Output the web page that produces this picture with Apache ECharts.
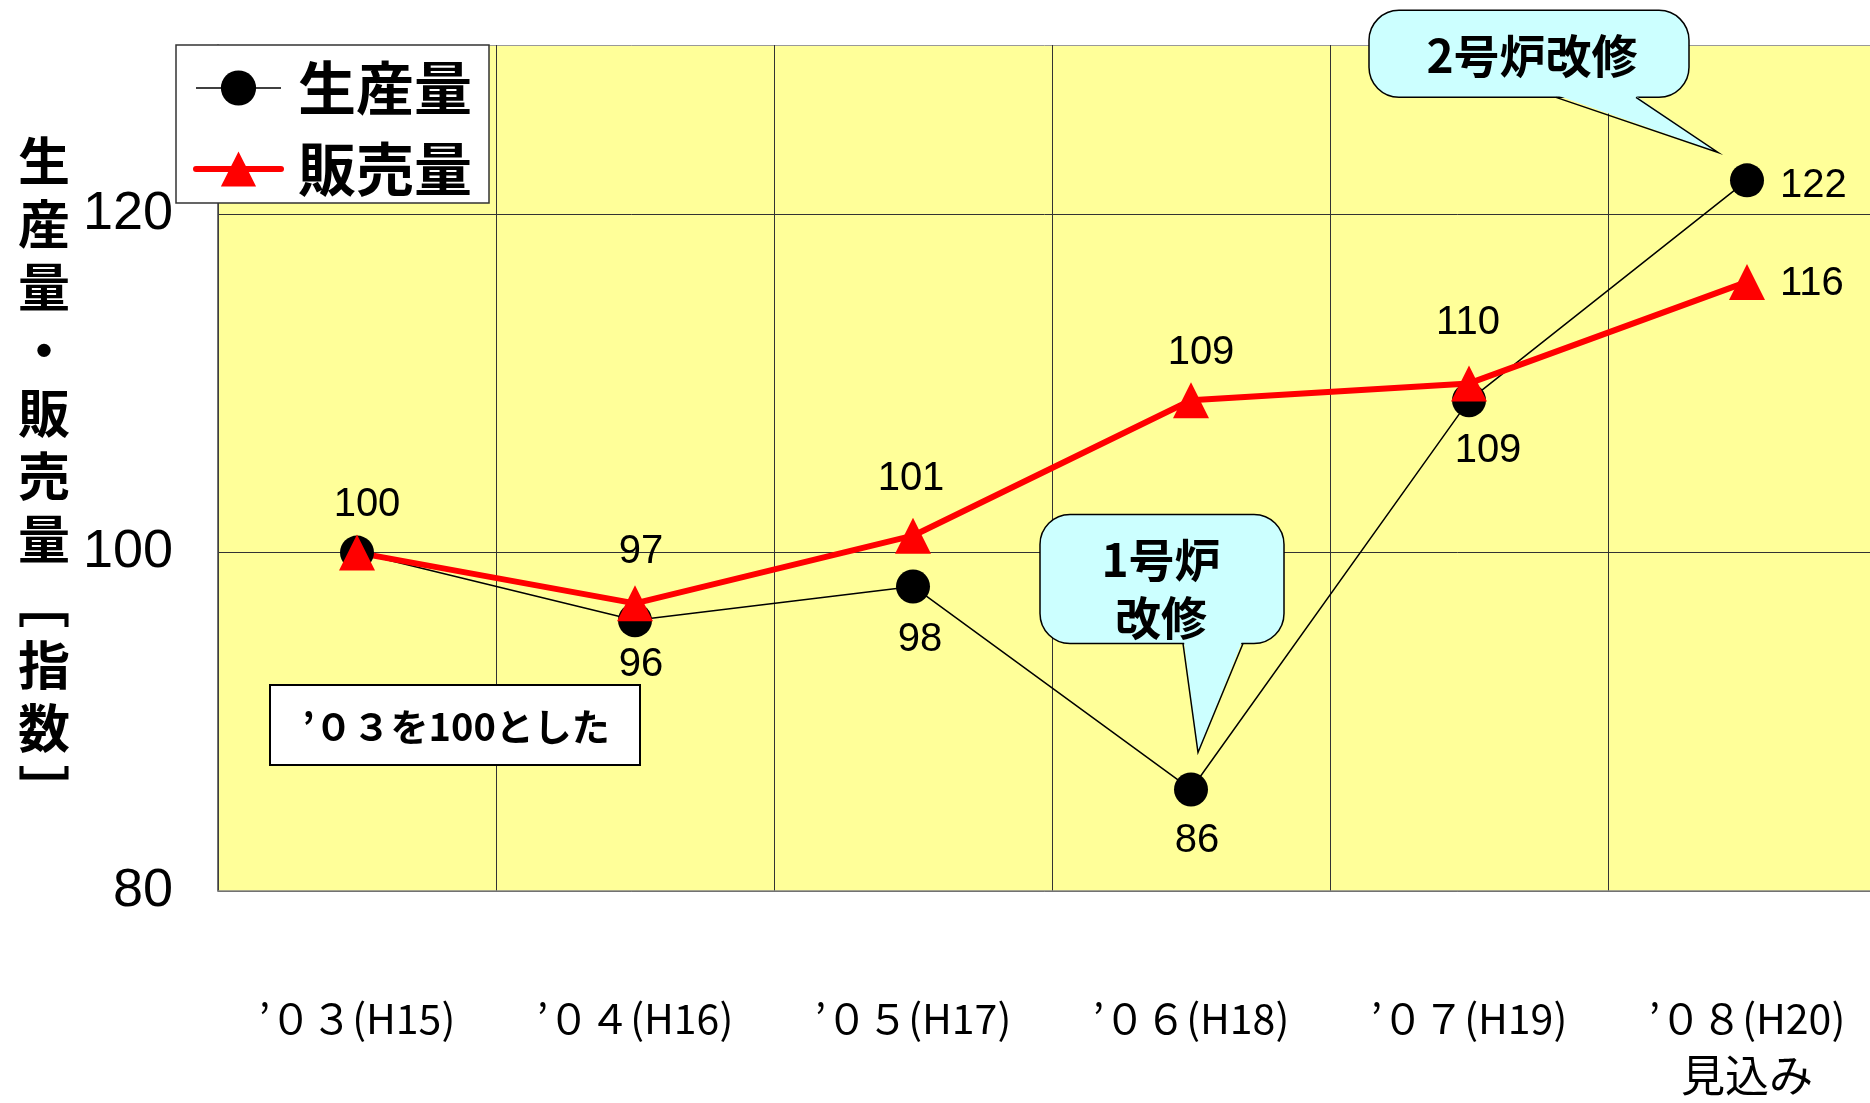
<!DOCTYPE html>
<html>
<head>
<meta charset="utf-8">
<script src="https://cdn.jsdelivr.net/npm/echarts@6/dist/echarts.min.js"></script>
<style>
  html, body { margin: 0; padding: 0; background: #ffffff; }
  #chart { width: 1870px; height: 1103px; }
</style>
</head>
<body>
<div id="chart"></div>
<script>
// Fiscal years (calendar year and Heisei year); the last one is a forecast
const categories = ['’０３(H15)', '’０４(H16)', '’０５(H17)', '’０６(H18)', '’０７(H19)', '’０８(H20)\n見込み'];
// Index values, 2003 = 100
const productionIndex = [100, 96, 98, 86, 109, 122];
const salesIndex = [100, 97, 101, 109, 110, 116];
const yTickLabels = [80, 100, 120];
const seriesNames = ['生産量', '販売量'];
const axisTitle = '生産量・販売量［指数］';
const baseNote = '’０３を100とした';
const furnace1Note = '1号炉\n改修';
const furnace2Note = '2号炉改修';

const CJK = '"Noto Sans CJK JP", "Noto Sans CJK SC", sans-serif';
const LATIN = '"Liberation Sans", Arial, sans-serif';

// Per-point label placement (pos, distance, x/y nudge)
const productionLabelPlacement = [
  { pos: 'top', d: 11, dx: 10, dy: 0 },
  { pos: 'bottom', d: 8, dx: 6, dy: 0 },
  { pos: 'bottom', d: 17, dx: 7, dy: 0 },
  { pos: 'bottom', d: 14, dx: 6, dy: 0 },
  { pos: 'bottom', d: 14, dx: 19, dy: 0 },
  { pos: 'right', d: 16, dx: 0, dy: 6 }
];
const salesLabelPlacement = [
  null,
  { pos: 'top', d: 13, dx: 6, dy: 0 },
  { pos: 'top', d: 19, dx: -2, dy: 0 },
  { pos: 'top', d: 9, dx: 10, dy: 0 },
  { pos: 'top', d: 22, dx: -1, dy: 0 },
  { pos: 'right', d: 15, dx: 0, dy: 2 }
];

function withLabels(values, placement) {
  return values.map((v, i) => {
    const p = placement[i];
    if (!p) return { value: v, label: { show: false } };
    return {
      value: v,
      label: { show: true, position: p.pos, distance: p.d, offset: [p.dx, p.dy] }
    };
  });
}

const labelStyle = { color: '#000', fontFamily: LATIN, fontSize: 40, formatter: '{c}' };

const chart = echarts.init(document.getElementById('chart'), null, { renderer: 'canvas' });

chart.setOption({
  backgroundColor: '#ffffff',
  animation: false,
  grid: {
    left: 218, top: 45, width: 1668, height: 846,
    outerBoundsMode: 'none',
    containLabel: false,
    show: true, backgroundColor: '#FFFF99', borderWidth: 0
  },
  legend: {
    orient: 'vertical',
    left: 176, top: 45,
    padding: [13, 17, 4, 17],
    itemWidth: 85, itemHeight: 44, itemGap: 21,
    backgroundColor: '#ffffff', borderColor: '#333', borderWidth: 1.5,
    selectedMode: false,
    lineStyle: { width: 'inherit' },
    textStyle: { fontFamily: CJK, fontWeight: 'bold', fontSize: 58, lineHeight: 60, color: '#000', padding: [0, 0, 0, 12] },
    data: seriesNames
  },
  xAxis: {
    type: 'category',
    data: categories,
    boundaryGap: true,
    axisLine: { show: true, lineStyle: { color: '#888', width: 1.5 } },
    axisTick: { show: false },
    splitLine: { show: true, lineStyle: { color: '#333', width: 1 } },
    axisLabel: {
      margin: 100,
      interval: 0,
      color: '#000',
      formatter: v => v.split('\n').map((s, i) => (i === 0 ? '{a|' + s + '}' : '{b|' + s + '}')).join('\n'),
      rich: {
        a: { fontFamily: CJK, fontSize: 41, lineHeight: 54, color: '#000' },
        b: { fontFamily: CJK, fontSize: 44, lineHeight: 60, color: '#000' }
      }
    }
  },
  yAxis: {
    type: 'value',
    min: 80, max: 130, interval: 20,
    axisLine: { show: true, lineStyle: { color: '#444', width: 1.5 } },
    axisTick: { show: false },
    splitLine: { show: true, lineStyle: { color: ['#333', '#333', '#333', '#999'], width: 1 } },
    axisLabel: {
      margin: 45,
      color: '#000',
      fontFamily: LATIN,
      fontSize: 54,
      formatter: v => (yTickLabels.includes(v) ? String(v) : '')
    }
  },
  series: [
    {
      name: seriesNames[0],
      type: 'line',
      data: withLabels(productionIndex, productionLabelPlacement),
      symbol: 'circle', symbolSize: 34,
      lineStyle: { color: '#000', width: 1.5 },
      itemStyle: { color: '#000' },
      label: labelStyle
    },
    {
      name: seriesNames[1],
      type: 'line',
      data: withLabels(salesIndex, salesLabelPlacement),
      symbol: 'triangle', symbolSize: 36,
      lineStyle: { color: '#FF0000', width: 6, cap: 'round' },
      itemStyle: { color: '#FF0000' },
      label: labelStyle
    }
  ]
});

// Speech-bubble callout anchored near a data point
function callout(tip, rel, text, textStyle) {
  const x0 = tip[0] + rel.left, x1 = tip[0] + rel.right;
  const y0 = tip[1] + rel.top, y1 = tip[1] + rel.bottom;
  const b0 = tip[0] + rel.base[0], b1 = tip[0] + rel.base[1];
  return [
    { type: 'rect', z: 100, shape: { x: x0, y: y0, width: x1 - x0, height: y1 - y0, r: rel.r },
      style: { fill: '#CCFFFF', stroke: '#000', lineWidth: 1.5 } },
    { type: 'polygon', z: 101, shape: { points: [[b0 + 1, y1 - 2], [tip[0], tip[1]], [b1 - 1, y1 - 2]] },
      style: { fill: '#CCFFFF', lineWidth: 0 } },
    { type: 'polyline', z: 101, shape: { points: [[b0, y1], [tip[0], tip[1]], [b1, y1]] },
      style: { stroke: '#000', lineWidth: 1.5, fill: null } },
    { type: 'text', z: 102, x: tip[0] + rel.tx, y: tip[1] + rel.ty,
      style: Object.assign({
        text: text, fill: '#000', fontFamily: CJK, fontWeight: 'bold',
        align: 'center', verticalAlign: 'middle', textAlign: 'center', textVerticalAlign: 'middle'
      }, textStyle) }
  ];
}

const p06 = chart.convertToPixel({ xAxisIndex: 0, yAxisIndex: 0 }, [3, productionIndex[3]]);
const p08 = chart.convertToPixel({ xAxisIndex: 0, yAxisIndex: 0 }, [5, productionIndex[5]]);
const tip1 = [p06[0] + 7, p06[1] - 37];
const tip2 = [p08[0] - 29, p08[1] - 28];

const verticalTitle = Array.from(axisTitle)
  .map(c => (c === '［' ? '﹇' : c === '］' ? '﹈' : c))
  .join('\n');

chart.setOption({
  graphic: [
    // vertical axis title
    { type: 'text', z: 50, x: 44, y: 130,
      style: { text: verticalTitle, fill: '#000', fontFamily: CJK, fontWeight: 'bold', fontSize: 52,
               lineHeight: 63, align: 'center', verticalAlign: 'top', textAlign: 'center', textVerticalAlign: 'top' } },
    // base-year note
    { type: 'rect', z: 50, shape: { x: 270, y: 685, width: 370, height: 80 },
      style: { fill: '#ffffff', stroke: '#000', lineWidth: 2 } },
    { type: 'text', z: 51, x: 456, y: 727,
      style: { text: baseNote, fill: '#000', fontFamily: CJK, fontWeight: 'bold', fontSize: 38,
               align: 'center', verticalAlign: 'middle', textAlign: 'center', textVerticalAlign: 'middle' } }
  ]
    .concat(callout(tip1, { left: -158, right: 86, top: -238, bottom: -109, base: [-15, 45], r: 30, tx: -37, ty: -164 },
                    furnace1Note, { fontSize: 46, lineHeight: 58 }))
    .concat(callout(tip2, { left: -349, right: -29, top: -142, bottom: -55, base: [-162, -82], r: 30, tx: -186, ty: -97 },
                    furnace2Note, { fontSize: 46 }))
});
</script>
</body>
</html>
